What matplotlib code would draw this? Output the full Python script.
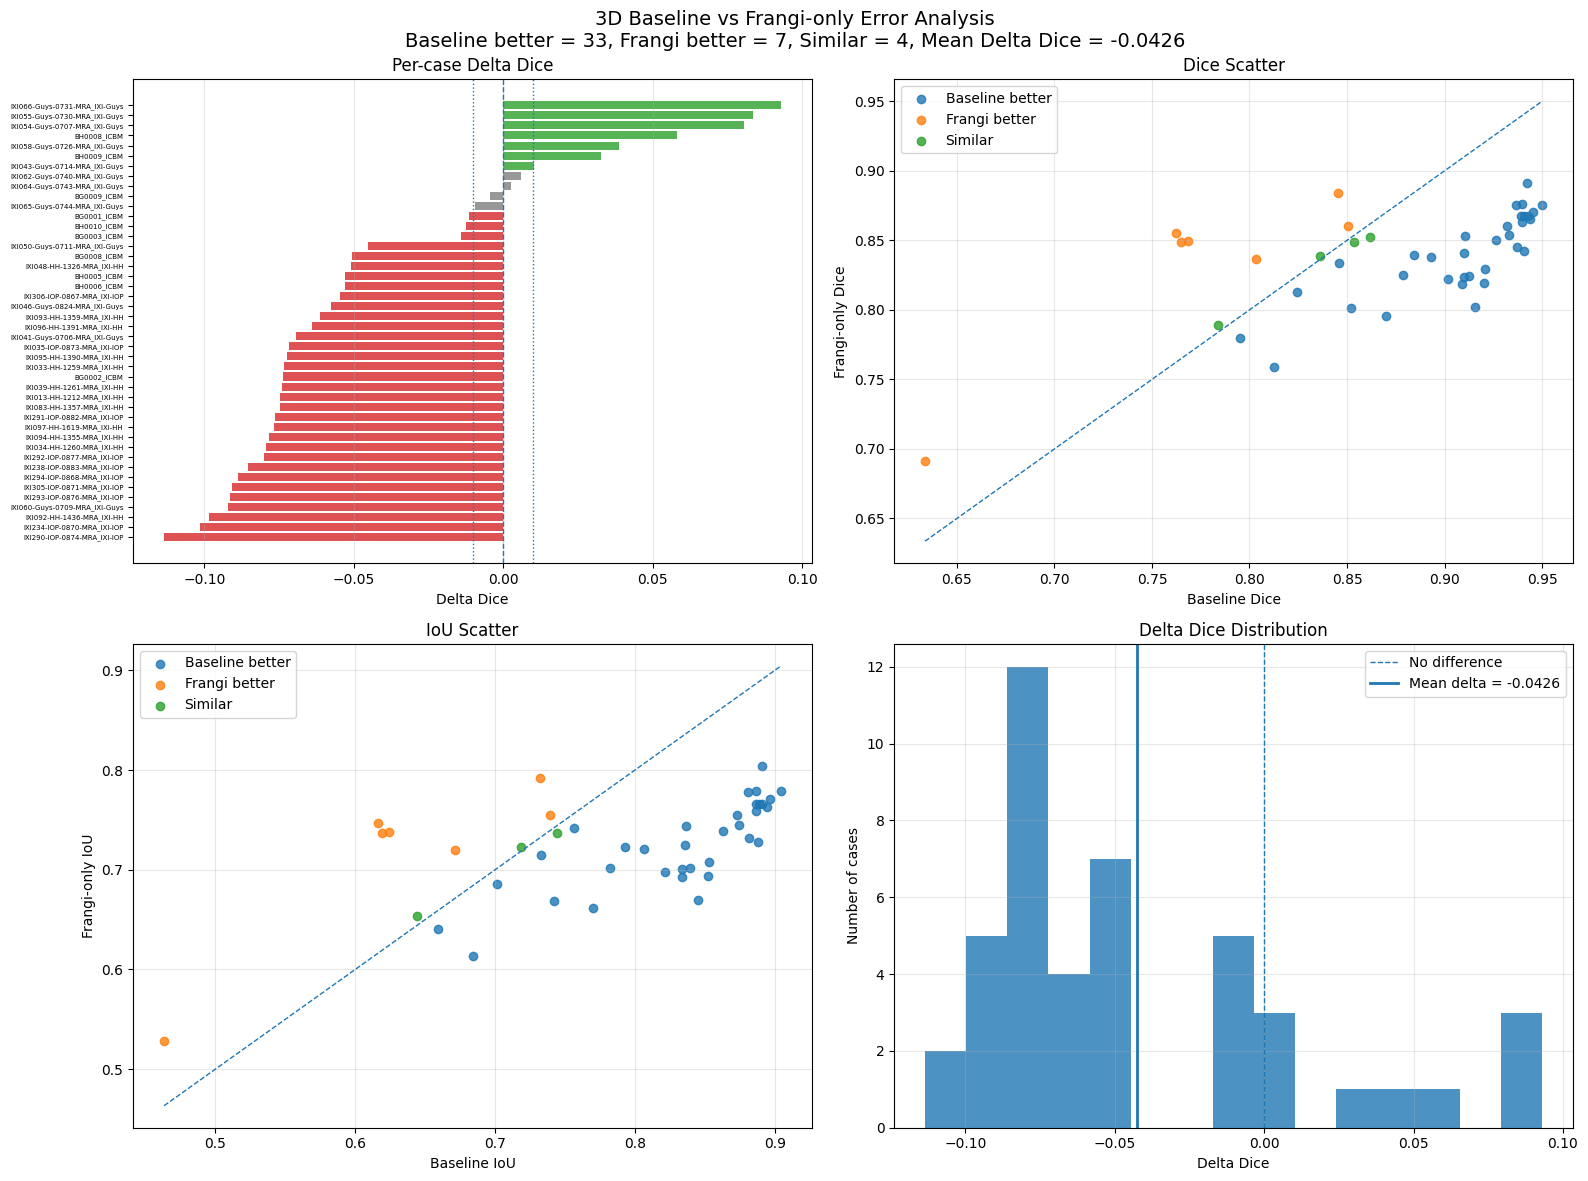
#!/usr/bin/env python3
# -*- coding: utf-8 -*-
# ============================================================================
# Title     : 3D Baseline vs Frangi-only error analysis (4 panels)
# ----------------------------------------------------------------------------
# Description :
#   Per-case Delta Dice bars, Dice / IoU scatters and Delta Dice histogram.
# ============================================================================

import matplotlib

matplotlib.use("Agg")
import matplotlib.pyplot as plt
import numpy as np

# -----------------------------------------------------------------------------
# Data
# -----------------------------------------------------------------------------

# per-case delta (frangi - baseline), sorted top -> bottom
CASE_NAMES = [
    "IXI066-Guys-0731-MRA_IXI-Guys", "IXI055-Guys-0730-MRA_IXI-Guys",
    "IXI054-Guys-0707-MRA_IXI-Guys", "BH0008_ICBM",
    "IXI058-Guys-0726-MRA_IXI-Guys", "BH0009_ICBM",
    "IXI043-Guys-0714-MRA_IXI-Guys", "IXI062-Guys-0740-MRA_IXI-Guys",
    "IXI064-Guys-0743-MRA_IXI-Guys", "BG0009_ICBM",
    "IXI065-Guys-0744-MRA_IXI-Guys", "BG0001_ICBM",
    "BH0010_ICBM", "BG0003_ICBM",
    "IXI050-Guys-0711-MRA_IXI-Guys", "BG0008_ICBM",
    "IXI048-HH-1326-MRA_IXI-HH", "BH0005_ICBM",
    "BH0006_ICBM", "IXI306-IOP-0867-MRA_IXI-IOP",
    "IXI046-Guys-0824-MRA_IXI-Guys", "IXI093-HH-1359-MRA_IXI-HH",
    "IXI096-HH-1391-MRA_IXI-HH", "IXI041-Guys-0706-MRA_IXI-Guys",
    "IXI035-IOP-0873-MRA_IXI-IOP", "IXI095-HH-1390-MRA_IXI-HH",
    "IXI033-HH-1259-MRA_IXI-HH", "BG0002_ICBM",
    "IXI039-HH-1261-MRA_IXI-HH", "IXI013-HH-1212-MRA_IXI-HH",
    "IXI083-HH-1357-MRA_IXI-HH", "IXI291-IOP-0882-MRA_IXI-IOP",
    "IXI097-HH-1619-MRA_IXI-HH", "IXI094-HH-1355-MRA_IXI-HH",
    "IXI034-HH-1260-MRA_IXI-HH", "IXI292-IOP-0877-MRA_IXI-IOP",
    "IXI238-IOP-0883-MRA_IXI-IOP", "IXI294-IOP-0868-MRA_IXI-IOP",
    "IXI305-IOP-0871-MRA_IXI-IOP", "IXI293-IOP-0876-MRA_IXI-IOP",
    "IXI060-Guys-0709-MRA_IXI-Guys", "IXI092-HH-1436-MRA_IXI-HH",
    "IXI234-IOP-0870-MRA_IXI-IOP", "IXI290-IOP-0874-MRA_IXI-IOP",
]
DELTA_DICE = [
    0.0930, 0.0835, 0.0805, 0.0582, 0.0387, 0.0327, 0.0102, 0.0060,
    0.0026, -0.0044, -0.0096, -0.0115, -0.0124, -0.0141, -0.0453, -0.0505,
    -0.0509, -0.0529, -0.0529, -0.0546, -0.0576, -0.0613, -0.0639, -0.0693,
    -0.0717, -0.0725, -0.0734, -0.0737, -0.0740, -0.0747, -0.0747, -0.0763,
    -0.0767, -0.0784, -0.0793, -0.0800, -0.0855, -0.0888, -0.0908, -0.0915,
    -0.0922, -0.0985, -0.1015, -0.1135,
]
SIMILAR_MARGIN = 0.01

# Dice scatter
DICE_BASE_BETTER_X = [
    0.7949, 0.8125, 0.8245, 0.8458, 0.8520, 0.8699, 0.8786, 0.8845, 0.8929,
    0.9020, 0.9090, 0.9099, 0.9128, 0.9100, 0.9107, 0.9158, 0.9204, 0.9207,
    0.9264, 0.9320, 0.9330, 0.9371, 0.9366, 0.9398, 0.9408, 0.9396, 0.9422,
    0.9500, 0.9454, 0.9440, 0.9392, 0.9410, 0.9428,
]
DICE_BASE_BETTER_Y = [
    0.7800, 0.7592, 0.8127, 0.8335, 0.8011, 0.7959, 0.8251, 0.8395, 0.8383,
    0.8225, 0.8187, 0.8239, 0.8244, 0.8409, 0.8531, 0.8024, 0.8194, 0.8294,
    0.8502, 0.8605, 0.8538, 0.8452, 0.8756, 0.8761, 0.8426, 0.8632, 0.8914,
    0.8754, 0.8706, 0.8653, 0.8672, 0.8672, 0.8672,
]
DICE_FRANGI_BETTER_X = [0.6336, 0.7623, 0.7648, 0.7685, 0.8033, 0.8453, 0.8505]
DICE_FRANGI_BETTER_Y = [0.6916, 0.8551, 0.8487, 0.8494, 0.8365, 0.8838, 0.8601]
DICE_SIMILAR_X = [0.7839, 0.8361, 0.8535, 0.8617]
DICE_SIMILAR_Y = [0.7894, 0.8385, 0.8487, 0.8521]

# IoU scatter
IOU_BASE_BETTER_X = [
    0.6594, 0.6844, 0.7014, 0.7329, 0.7419, 0.7565, 0.7700, 0.7821, 0.7929,
    0.8061, 0.8217, 0.8338, 0.8338, 0.8397, 0.8355, 0.8362, 0.8449, 0.8525,
    0.8532, 0.8626, 0.8733, 0.8747, 0.8809, 0.8816, 0.8868, 0.8868, 0.8882,
    0.8910, 0.8941, 0.8962, 0.9045, 0.8868, 0.8890, 0.8910,
]
IOU_BASE_BETTER_Y = [
    0.6410, 0.6131, 0.6852, 0.7148, 0.6690, 0.7421, 0.6621, 0.7021, 0.7231,
    0.7210, 0.6979, 0.7003, 0.6928, 0.7014, 0.7248, 0.7438, 0.6700, 0.6938,
    0.7079, 0.7390, 0.7548, 0.7448, 0.7779, 0.7321, 0.7790, 0.7590, 0.7283,
    0.8041, 0.7631, 0.7714, 0.7793, 0.7662, 0.7662, 0.7662,
]
IOU_FRANGI_BETTER_X = [0.4633, 0.6165, 0.6192, 0.6244, 0.6716, 0.7322, 0.7395]
IOU_FRANGI_BETTER_Y = [0.5286, 0.7469, 0.7369, 0.7379, 0.7193, 0.7921, 0.7548]
IOU_SIMILAR_X = [0.6442, 0.7187, 0.7444]
IOU_SIMILAR_Y = [0.6531, 0.7224, 0.7369]

HIST_BINS = 15


# -----------------------------------------------------------------------------
# Function : plot_delta_bars
# -----------------------------------------------------------------------------
def plot_delta_bars(ax) -> None:
    deltas = np.array(DELTA_DICE)
    colors = []
    for d in deltas:
        if d > SIMILAR_MARGIN:
            colors.append("tab:green")
        elif d < -SIMILAR_MARGIN:
            colors.append("tab:red")
        else:
            colors.append("tab:gray")

    ys = np.arange(len(deltas))
    ax.barh(ys, deltas, color=colors, alpha=0.8)
    ax.set_yticks(ys)
    ax.set_yticklabels(CASE_NAMES, fontsize=5)
    ax.invert_yaxis()
    ax.axvline(0, linestyle="--", linewidth=1)
    ax.axvline(SIMILAR_MARGIN, linestyle=":", linewidth=1)
    ax.axvline(-SIMILAR_MARGIN, linestyle=":", linewidth=1)
    ax.set_title("Per-case Delta Dice")
    ax.set_xlabel("Delta Dice")
    ax.grid(axis="x", alpha=0.3)


# -----------------------------------------------------------------------------
# Function : plot_scatter
# -----------------------------------------------------------------------------
def plot_scatter(ax, groups, title, xlabel, ylabel) -> None:
    all_vals = []
    for label, xs, ys in groups:
        ax.scatter(xs, ys, alpha=0.8, label=label)
        all_vals += list(xs) + list(ys)

    lo, hi = min(all_vals), max(all_vals)
    ax.plot([lo, hi], [lo, hi], linestyle="--", linewidth=1)
    ax.set_title(title)
    ax.set_xlabel(xlabel)
    ax.set_ylabel(ylabel)
    ax.legend(loc="upper left")
    ax.grid(alpha=0.3)


# -----------------------------------------------------------------------------
# Function : plot_histogram
# -----------------------------------------------------------------------------
def plot_histogram(ax) -> None:
    mean_delta = np.mean(DELTA_DICE)
    ax.hist(DELTA_DICE, bins=HIST_BINS, alpha=0.8)
    ax.axvline(0, linestyle="--", linewidth=1, label="No difference")
    ax.axvline(mean_delta, linewidth=2, label=f"Mean delta = {mean_delta:.4f}")
    ax.set_title("Delta Dice Distribution")
    ax.set_xlabel("Delta Dice")
    ax.set_ylabel("Number of cases")
    ax.legend(loc="upper right")
    ax.grid(alpha=0.3)


# -----------------------------------------------------------------------------
# Function : main
# -----------------------------------------------------------------------------
def main() -> None:
    deltas = np.array(DELTA_DICE)
    n_base = int(np.sum(deltas < -SIMILAR_MARGIN))
    n_frangi = int(np.sum(deltas > SIMILAR_MARGIN))
    n_sim = len(deltas) - n_base - n_frangi

    fig, axes = plt.subplots(2, 2, figsize=(16, 12), dpi=100)

    plot_delta_bars(axes[0, 0])
    plot_scatter(
        axes[0, 1],
        [("Baseline better", DICE_BASE_BETTER_X, DICE_BASE_BETTER_Y),
         ("Frangi better", DICE_FRANGI_BETTER_X, DICE_FRANGI_BETTER_Y),
         ("Similar", DICE_SIMILAR_X, DICE_SIMILAR_Y)],
        "Dice Scatter", "Baseline Dice", "Frangi-only Dice",
    )
    plot_scatter(
        axes[1, 0],
        [("Baseline better", IOU_BASE_BETTER_X, IOU_BASE_BETTER_Y),
         ("Frangi better", IOU_FRANGI_BETTER_X, IOU_FRANGI_BETTER_Y),
         ("Similar", IOU_SIMILAR_X, IOU_SIMILAR_Y)],
        "IoU Scatter", "Baseline IoU", "Frangi-only IoU",
    )
    plot_histogram(axes[1, 1])

    fig.suptitle(
        "3D Baseline vs Frangi-only Error Analysis\n"
        f"Baseline better = {n_base}, Frangi better = {n_frangi}, "
        f"Similar = {n_sim}, Mean Delta Dice = {deltas.mean():.4f}",
        fontsize=14,
    )
    fig.tight_layout()
    fig.savefig("out.png", dpi=100, bbox_inches="tight")


if __name__ == "__main__":
    main()

# end of file
